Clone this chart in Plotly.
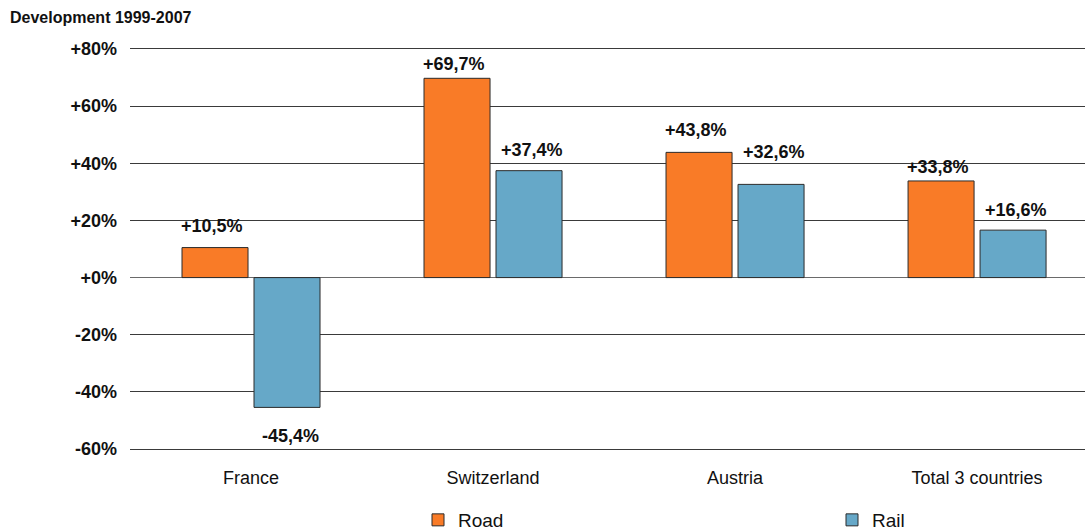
import plotly.graph_objects as go

# Freight traffic change across the Alps, 1999-2007 (%)
categories = ["France", "Switzerland", "Austria", "Total 3 countries"]
road = [10.5, 69.7, 43.8, 33.8]
rail = [-45.4, 37.4, 32.6, 16.6]
y_ticks = [-60, -40, -20, 0, 20, 40, 60, 80]

# label placement (pixels from bar end) per bar
road_label_gap = [22, 14, 22, 14]
rail_label_gap = [-29, 21, 32, 20]

ROAD_COLOR = "#F97B27"
RAIL_COLOR = "#66A8C8"
EDGE = "#2b2b2b"
FONT = "Liberation Sans, Arial, sans-serif"

PLOT_L, PLOT_T, PLOT_W, PLOT_H = 130, 46, 955, 406


def fmt(v):
    return f"{v:+.1f}%".replace(".", ",")


def px_x(px):
    return (px - PLOT_L) / PLOT_W


def px_y(py):
    return 1 - (py - PLOT_T) / PLOT_H


fig = go.Figure()
fig.add_trace(go.Bar(name="Road", x=categories, y=road, legend="legend",
                     marker=dict(color=ROAD_COLOR, line=dict(color=EDGE, width=1))))
fig.add_trace(go.Bar(name="Rail", x=categories, y=rail, legend="legend2",
                     marker=dict(color=RAIL_COLOR, line=dict(color=EDGE, width=1))))

annotations = []
for vals, gaps, dx in ((road, road_label_gap, -39), (rail, rail_label_gap, 39)):
    for c, v, g in zip(categories, vals, gaps):
        annotations.append(dict(
            x=c, y=v, text=fmt(v), showarrow=False, xshift=dx, yshift=g,
            font=dict(family=FONT, size=18, color="#111111", weight="bold"),
            xref="x", yref="y",
        ))

annotations.append(dict(
    x=px_x(8), y=px_y(17), xref="paper", yref="paper",
    text="<b>Development 1999-2007</b>",
    showarrow=False, xanchor="left", yanchor="middle",
    font=dict(family=FONT, size=16, color="#111111"),
))

legend_style = dict(
    orientation="h", yanchor="middle", xanchor="left",
    font=dict(family=FONT, size=19, color="#111111"),
    bgcolor="rgba(0,0,0,0)",
)

fig.update_layout(
    width=1085, height=531,
    margin=dict(l=PLOT_L, r=0, t=PLOT_T, b=531 - PLOT_T - PLOT_H, autoexpand=False),
    paper_bgcolor="white", plot_bgcolor="white",
    barmode="group", bargap=0.405, bargroupgap=0.083,
    font=dict(family=FONT, color="#111111"),
    showlegend=True,
    legend=dict(x=px_x(418), y=px_y(520), **legend_style),
    legend2=dict(x=px_x(832), y=px_y(520), **legend_style),
    annotations=annotations,
    xaxis=dict(
        range=[-0.5, 3.446], showgrid=False, showline=False, zeroline=False,
        tickfont=dict(family=FONT, size=18, color="#111111"),
        ticklabelstandoff=13,
    ),
    yaxis=dict(
        range=[-61, 81], tickvals=y_ticks,
        ticktext=[("+" if t >= 0 else "") + f"{t}%" for t in y_ticks],
        showgrid=True, gridcolor="#3a3a3a", gridwidth=1,
        zeroline=True, zerolinecolor="#6a6a6a", zerolinewidth=1,
        showline=False,
        tickfont=dict(family=FONT, size=18, color="#111111", weight="bold"),
        ticklabelstandoff=12,
    ),
)

fig.write_html("out.html")
